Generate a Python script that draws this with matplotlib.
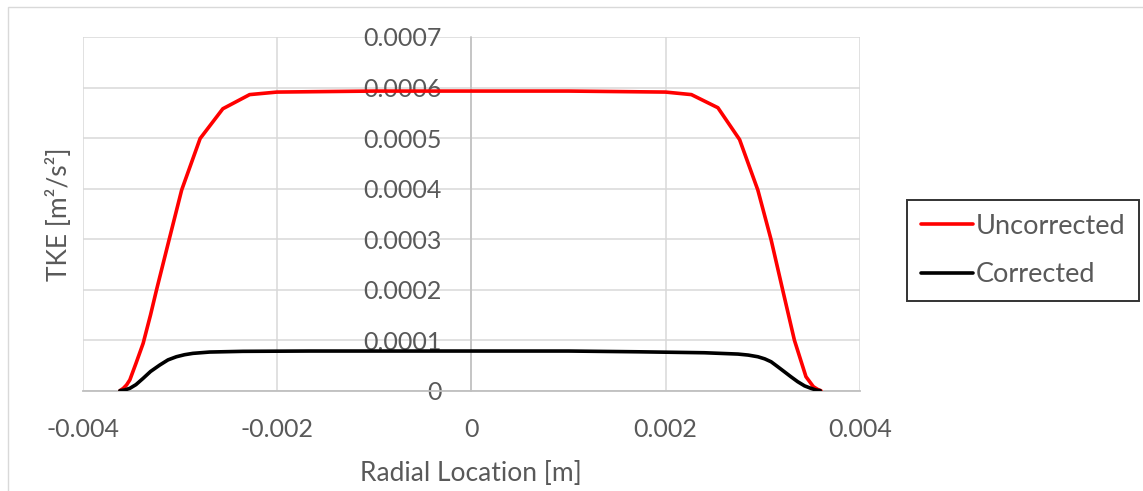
import matplotlib
matplotlib.use("Agg")
import matplotlib.pyplot as plt
from matplotlib.patches import Rectangle
from matplotlib.ticker import FixedLocator, FuncFormatter

# ---------------- data ----------------
unc_x = [-3.615e-3, -3.58e-3, -3.547e-3, -3.513e-3, -3.45e-3, -3.376e-3, -3.30e-3,
         -3.239e-3, -3.11e-3, -2.98e-3, -2.79e-3, -2.556e-3, -2.28e-3, -2.0e-3,
         -1.5e-3, -1.0e-3, -0.5e-3, 0.0, 0.5e-3, 1.0e-3, 1.5e-3, 2.0e-3,
         2.265e-3, 2.538e-3, 2.761e-3, 2.949e-3, 3.085e-3, 3.205e-3, 3.325e-3,
         3.444e-3, 3.52e-3, 3.565e-3, 3.598e-3]
unc_y = [0.0, 0.0000047, 0.0000113, 0.0000213, 0.000054, 0.0000937, 0.000150,
         0.000199, 0.000298, 0.000397, 0.000499, 0.000558, 0.000586, 0.000591,
         0.000592, 0.000593, 0.000593, 0.000593, 0.000593, 0.000593, 0.000592, 0.000591,
         0.000586, 0.000560, 0.000497, 0.000397, 0.000299, 0.000199, 0.000100,
         0.0000277, 0.0000080, 0.0000025, 0.0]

cor_x = [-3.615e-3, -3.565e-3, -3.513e-3, -3.45e-3, -3.376e-3, -3.30e-3, -3.205e-3,
         -3.12e-3, -3.034e-3, -2.95e-3, -2.864e-3, -2.692e-3, -2.35e-3, -1.667e-3,
         -1.0e-3, 0.0, 1.0e-3, 1.718e-3, 2.4e-3, 2.744e-3, 2.85e-3, 2.949e-3,
         3.02e-3, 3.085e-3, 3.15e-3, 3.222e-3, 3.29e-3, 3.359e-3, 3.43e-3, 3.495e-3,
         3.545e-3, 3.59e-3]
cor_y = [0.0, 0.0000015, 0.0000047, 0.000012, 0.0000245, 0.000038, 0.0000508,
         0.000061, 0.0000672, 0.0000712, 0.0000739, 0.0000765, 0.0000779, 0.0000785,
         0.0000785, 0.0000785, 0.0000785, 0.000077, 0.0000751, 0.0000725, 0.0000705, 0.0000672,
         0.0000630, 0.0000573, 0.0000480, 0.0000375, 0.0000275, 0.0000178, 0.0000095, 0.0000047,
         0.0000015, 0.0]

x_ticks = [-0.004, -0.002, 0.0, 0.002, 0.004]
x_tick_labels = ["-0.004", "-0.002", "0", "0.002", "0.004"]
y_ticks = [0.0, 0.0001, 0.0002, 0.0003, 0.0004, 0.0005, 0.0006, 0.0007]
y_tick_labels = ["0", "0.0001", "0.0002", "0.0003", "0.0004", "0.0005", "0.0006", "0.0007"]

series_names = ["Uncorrected", "Corrected"]
x_title = "Radial Location [m]"
y_title = "TKE [m²/s²]"

# ---------------- style ----------------
plt.rcParams["font.family"] = ["Lato", "DejaVu Sans"]
TXT = "#595959"
GRID = "#d9d9d9"
AXIS = "#bfbfbf"
FS = 18

W, H = 1143, 491
fig = plt.figure(figsize=(W / 100, H / 100), dpi=100)
left_px, right_px, top_px, bot_px = 82.5, 860.0, 37.0, 390.7
ax = fig.add_axes([left_px / W, (H - bot_px) / H, (right_px - left_px) / W, (bot_px - top_px) / H])

ax.plot(unc_x, unc_y, color="#ff0000", lw=2.6, label=series_names[0],
        solid_joinstyle="round", solid_capstyle="round", zorder=4)
ax.plot(cor_x, cor_y, color="#000000", lw=2.6, label=series_names[1],
        solid_joinstyle="round", solid_capstyle="round", zorder=4)

ax.set_xlim(-0.004, 0.004)
ax.set_ylim(0, 0.0007)

ax.xaxis.set_major_locator(FixedLocator(x_ticks))
ax.xaxis.set_major_formatter(FuncFormatter(lambda v, p: x_tick_labels[p] if p is not None and p < len(x_tick_labels) else ""))
ax.yaxis.set_major_locator(FixedLocator(y_ticks))
ax.yaxis.set_major_formatter(FuncFormatter(lambda v, p: y_tick_labels[p] if p is not None and p < len(y_tick_labels) else ""))

ax.grid(True, color=GRID, lw=1.1, zorder=0)
ax.set_axisbelow(True)
for s in ["top", "right"]:
    ax.spines[s].set_visible(False)
ax.spines["left"].set_position(("data", 0))
ax.spines["left"].set_color(AXIS)
ax.spines["left"].set_linewidth(1.1)
ax.spines["bottom"].set_color(AXIS)
ax.spines["bottom"].set_linewidth(1.3)

ax.tick_params(axis="both", length=0, labelsize=FS, labelcolor=TXT)
ax.tick_params(axis="x", pad=20)
ax.tick_params(axis="y", pad=21)

ax.set_xlabel(x_title, fontsize=19, color=TXT)
ax.xaxis.set_label_coords(0.5, -0.2)
ax.set_ylabel(y_title, fontsize=19, color=TXT)
ax.yaxis.set_label_coords(-0.013, 0.5)

leg = fig.legend(loc="center left", bbox_to_anchor=(907 / W, 1 - 250.5 / H),
                 fontsize=19.5, frameon=True, fancybox=False, handlelength=1.95,
                 handletextpad=0.08, labelspacing=0.87, borderpad=0.5, borderaxespad=0)
for t in leg.get_texts():
    t.set_color(TXT)
leg.get_frame().set_edgecolor("black")
leg.get_frame().set_linewidth(1.4)

fig.add_artist(Rectangle((8 / W, -0.1), 2.0, (H - 7) / H + 0.1, transform=fig.transFigure,
                         fill=False, ec=GRID, lw=1.0))

fig.savefig("out.png", dpi=100, facecolor="white")
